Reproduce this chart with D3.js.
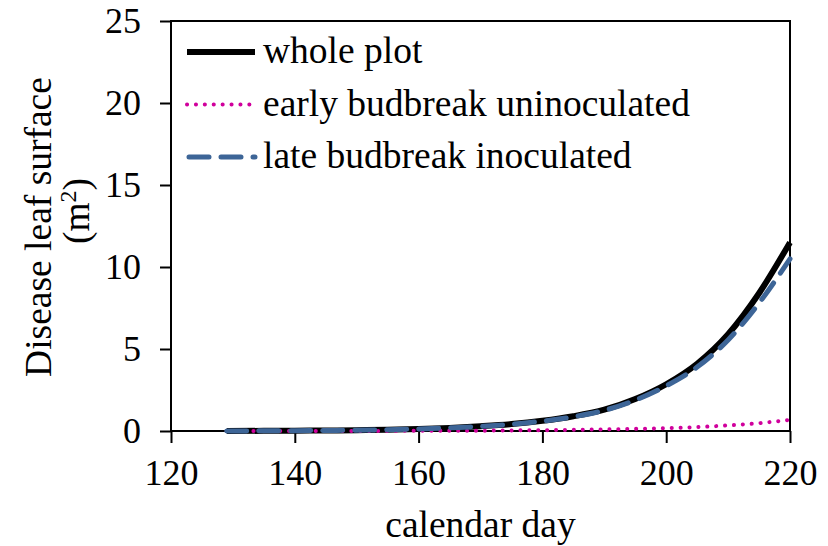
<!DOCTYPE html>
<html>
<head>
<meta charset="utf-8">
<script src="https://cdn.jsdelivr.net/npm/d3@7"></script>
<style>
  body { margin: 0; background: white; }
  svg { display: block; font-family: 'Liberation Serif', 'Times New Roman', serif; }
</style>
</head>
<body>
<div id="chart"></div>
<script>
// values (calendar day -> m2)
const days = [129, 135, 140, 145, 150, 155, 160, 165, 170, 175, 180, 185, 190, 195, 200, 205, 210, 215, 220];
const wholePlot = [0, 0.01, 0.02, 0.03, 0.05, 0.08, 0.12, 0.19, 0.29, 0.42, 0.62, 0.9, 1.3, 1.95, 2.85, 4.1, 5.9, 8.4, 11.5];
const earlyUninoc = [0, 0, 0, 0, 0.005, 0.007, 0.01, 0.015, 0.02, 0.035, 0.05, 0.07, 0.1, 0.13, 0.17, 0.24, 0.34, 0.48, 0.68];
const lateInoc = [0, 0.01, 0.02, 0.03, 0.05, 0.08, 0.12, 0.19, 0.28, 0.41, 0.6, 0.87, 1.26, 1.88, 2.75, 3.9, 5.55, 7.8, 10.5];
const xTicks = [120, 140, 160, 180, 200, 220];
const yTicks = [0, 5, 10, 15, 20, 25];
const seriesNames = ['whole plot', 'early budbreak uninoculated', 'late budbreak inoculated'];

const W = 828, H = 546,
	margin = {top: 21, right: 38, bottom: 115, left: 171},
	width = W - margin.left - margin.right,
	height = H - margin.top - margin.bottom;

const styles = [
	{color: '#000000', w: 6, dash: null, cap: 'butt'},
	{color: '#d0009c', w: 4, dash: '0.1 8.8', cap: 'round'},
	{color: '#3d6597', w: 5, dash: '20 12', cap: 'round'}
];

let svg = d3.select('#chart').append('svg')
	.attr('width', W).attr('height', H);

let g = svg.append('g').attr('transform', `translate(${margin.left},${margin.top})`);

let x = d3.scaleLinear().domain([120, 220]).range([0, width]);
let y = d3.scaleLinear().domain([0, 25]).range([height, 0]);

// plot box (top and right edges)
g.append('rect')
	.attr('x', 0).attr('y', 0)
	.attr('width', width).attr('height', height)
	.attr('fill', 'none').attr('stroke', '#000').attr('stroke-width', 2);

// axes
let xAxis = d3.axisBottom(x).tickValues(xTicks).tickSize(12).tickPadding(16);
let yAxis = d3.axisLeft(y).tickValues(yTicks).tickSize(11).tickPadding(19);

let gx = g.append('g').attr('transform', `translate(0,${height})`).call(xAxis);
let gy = g.append('g').call(yAxis);
[gx, gy].forEach(a => {
	a.select('.domain').attr('stroke-width', 2);
	a.selectAll('.tick line').attr('stroke-width', 2);
	a.selectAll('text').attr('font-size', 36).attr('fill', '#000')
		.attr('font-family', "'Liberation Serif', serif");
});
gx.select('.domain').attr('d', `M0,0H${width}`);
gy.select('.domain').attr('d', `M0,${height}V0`);

// lines
const line = vals => d3.line()
	.x((d, i) => x(days[i]))
	.y(d => y(d))
	.curve(d3.curveMonotoneX)(vals);

[wholePlot, earlyUninoc, lateInoc].forEach((vals, i) => {
	let s = styles[i];
	g.append('path')
		.attr('d', line(vals))
		.attr('fill', 'none')
		.attr('stroke', s.color)
		.attr('stroke-width', s.w)
		.attr('stroke-linecap', s.cap)
		.attr('stroke-dasharray', s.dash);
});

// legend
let leg = svg.append('g');
seriesNames.forEach((name, i) => {
	let s = styles[i];
	let ly = 52 + i * 52.5;
	leg.append('line')
		.attr('x1', i === 2 ? 189 : 187).attr('x2', 255)
		.attr('y1', ly).attr('y2', ly)
		.attr('stroke', s.color)
		.attr('stroke-width', s.w)
		.attr('stroke-linecap', s.cap)
		.attr('stroke-dasharray', s.dash);
	leg.append('text')
		.attr('x', 263).attr('y', ly + 11)
		.attr('font-size', 37.5)
		.text(name);
});

// axis titles
svg.append('text')
	.attr('x', margin.left + width / 2).attr('y', 537)
	.attr('text-anchor', 'middle')
	.attr('font-size', 37.5)
	.text('calendar day');

svg.append('text')
	.attr('transform', 'translate(51,227) rotate(-90)')
	.attr('text-anchor', 'middle')
	.attr('font-size', 37.5)
	.text('Disease leaf surface');

let yt2 = svg.append('text')
	.attr('transform', 'translate(89,211) rotate(-90)')
	.attr('text-anchor', 'middle')
	.attr('font-size', 37.5);
yt2.append('tspan').text('(m');
yt2.append('tspan').attr('font-size', 24).attr('dy', -13).text('2');
yt2.append('tspan').attr('dy', 13).text(')');
</script>
</body>
</html>
